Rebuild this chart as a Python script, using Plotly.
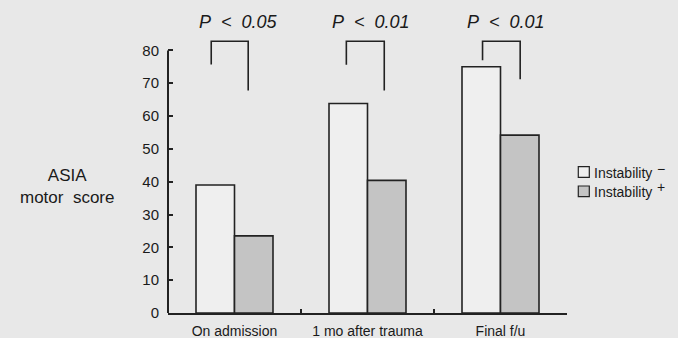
import plotly.graph_objects as go

categories = ["On admission", "1 mo after trauma", "Final f/u"]
instab_neg = [39.0, 63.8, 75.0]
instab_pos = [23.5, 40.4, 54.2]
series_names = ["Instability", "Instability"]
series_signs = ["\u2212", "+"]
p_labels = ["P\u00a0\u00a0<\u00a0\u00a00.05", "P\u00a0\u00a0<\u00a0\u00a00.01", "P\u00a0\u00a0<\u00a0\u00a00.01"]
# bracket geometry (data units): top, left-leg bottom, right-leg bottom
bracket_top = [82.8, 82.8, 82.8]
bracket_left_bottom = [75.7, 75.6, 77.0]
bracket_right_bottom = [67.8, 67.8, 71.2]
bracket_left_off = [-0.175, -0.159, -0.135]
bracket_right_off = [0.103, 0.126, 0.148]
label_off = [0.03, 0.027, 0.045]
y_ticks = [0, 10, 20, 30, 40, 50, 60, 70, 80]

BG = "#e8e8e8"
LINE = "#222222"
TXT = "#1a1a1a"
FONT = "Liberation Sans, Arial, sans-serif"

fig = go.Figure()
fig.add_trace(go.Bar(x=categories, y=instab_neg, name=series_names[0] + " " + series_signs[0],
                     marker=dict(color="#efefef", line=dict(color=LINE, width=1.6)),
                     showlegend=False))
fig.add_trace(go.Bar(x=categories, y=instab_pos, name=series_names[1] + " " + series_signs[1],
                     marker=dict(color="#c4c4c4", line=dict(color=LINE, width=1.6)),
                     showlegend=False))

shapes = []
annotations = []
for i in range(len(categories)):
    xl = i + bracket_left_off[i]
    xr = i + bracket_right_off[i]
    shapes.append(dict(type="path", xref="x", yref="y",
                       path=f"M {xl},{bracket_left_bottom[i]} L {xl},{bracket_top[i]} L {xr},{bracket_top[i]} L {xr},{bracket_right_bottom[i]}",
                       line=dict(color=LINE, width=1.6)))
    annotations.append(dict(x=i + label_off[i], y=88.7, xref="x", yref="y",
                            text="<i>" + p_labels[i] + "</i>", showarrow=False,
                            font=dict(family=FONT, size=18, color=TXT),
                            xanchor="center", yanchor="middle"))
# manual y-axis line from 0 to 80
shapes.append(dict(type="line", xref="paper", yref="y", x0=0, x1=0, y0=0, y1=80,
                   line=dict(color=LINE, width=2)))

# manual legend
leg_fill = ["#efefef", "#c4c4c4"]
leg_y = [(0.4493, 0.4844), (0.3851, 0.4205)]
leg_text_y = [0.462, 0.4007]
leg_sign_y = [0.4768, 0.4172]
for k in range(2):
    shapes.append(dict(type="rect", xref="paper", yref="paper",
                       x0=1.0283, x1=1.0559, y0=leg_y[k][0], y1=leg_y[k][1],
                       fillcolor=leg_fill[k], line=dict(color=LINE, width=1.2)))
    annotations.append(dict(x=1.0634, y=leg_text_y[k], xref="paper", yref="paper",
                            text=series_names[k], showarrow=False,
                            font=dict(family=FONT, size=14, color=TXT),
                            xanchor="left", yanchor="middle"))
    annotations.append(dict(x=1.2356, y=leg_sign_y[k], xref="paper", yref="paper",
                            text=series_signs[k], showarrow=False,
                            font=dict(family=FONT, size=14, color=TXT),
                            xanchor="center", yanchor="middle"))

# y-axis title
annotations.append(dict(x=-0.253, y=0.42, xref="paper", yref="paper",
                        text="ASIA<br>motor\u00a0\u00a0score", showarrow=False,
                        font=dict(family=FONT, size=17, color=TXT),
                        xanchor="center", yanchor="middle"))

fig.update_layout(
    width=678, height=338,
    margin=dict(l=168, r=111, t=11, b=25),
    paper_bgcolor=BG, plot_bgcolor=BG,
    barmode="group", bargap=0.421, bargroupgap=0,
    font=dict(family=FONT, color=TXT),
    shapes=shapes, annotations=annotations,
    xaxis=dict(showline=True, linecolor=LINE, linewidth=2, ticks="inside",
               tickson="boundaries", ticklen=4, tickcolor=LINE, tickwidth=1.5,
               tickfont=dict(family=FONT, size=14, color=TXT), automargin=False,
               showgrid=False, zeroline=False, ticklabelstandoff=4),
    yaxis=dict(range=[0, 92], tickvals=y_ticks, ticks="inside", ticklen=5,
               tickcolor=LINE, tickwidth=1.5, showline=False, showgrid=False,
               automargin=False,
               zeroline=False, tickfont=dict(family=FONT, size=15, color=TXT),
               ticklabelstandoff=8),
)

fig.write_html("out.html", config={"displayModeBar": False},
               post_script="document.body.style.margin='0';document.body.style.background='#e8e8e8';")
